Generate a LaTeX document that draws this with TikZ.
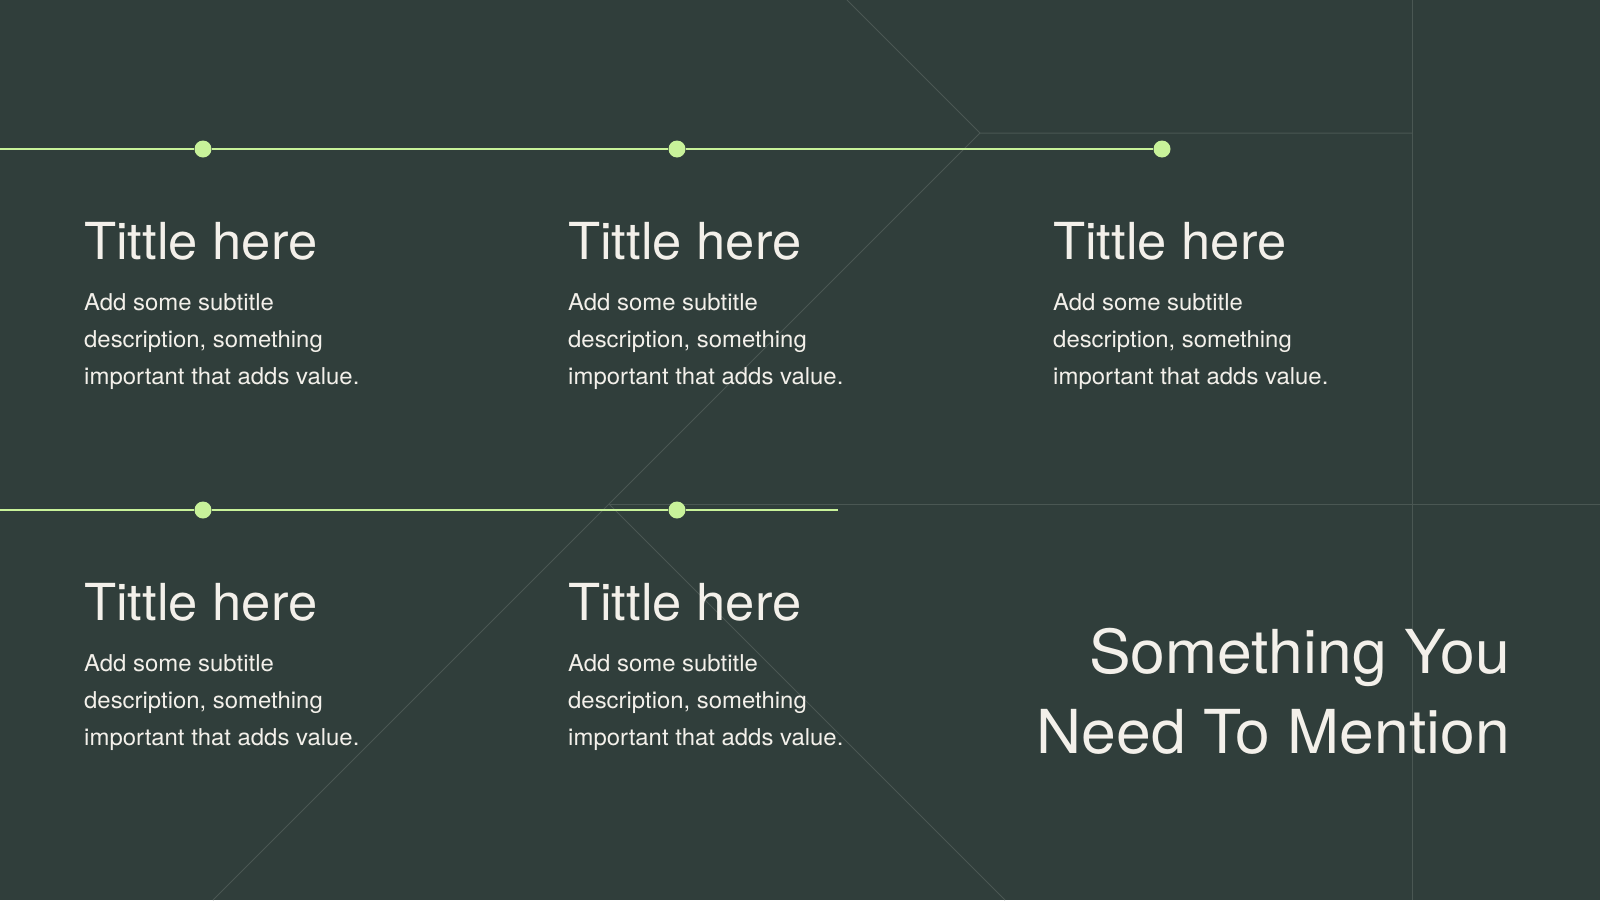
\documentclass[tikz,border=0pt]{standalone}
\usepackage{fontspec}
\setmainfont[FakeStretch=1.03]{TeX Gyre Heros}
\definecolor{bg}{HTML}{303E3B}
\definecolor{accent}{HTML}{C8F29A}
\definecolor{faint}{HTML}{4A5753}
\definecolor{txt}{HTML}{F3F0EA}
\tikzset{
  faintline/.style={draw=faint, line width=1pt},
  greenline/.style={draw=accent, line width=2pt},
  dotnode/.style={circle, fill=accent, minimum size=17pt, inner sep=0pt},
  titletext/.style={anchor=base west, inner sep=0pt, text=txt, font=\fontsize{51}{60}\selectfont},
  bodytext/.style={anchor=base west, inner sep=0pt, text=txt, font=\fontsize{23.2}{27}\selectfont},
  bigtext/.style={anchor=base east, inner sep=0pt, text=txt, font=\fontsize{60.6}{72}\selectfont},
}
\newcommand\mycard[3]{%
  \node[titletext] (#1t) at (#2,#3) {Tittle here};
  \node[bodytext] (#1a) at (#2,#3+51) {Add some subtitle};
  \node[bodytext] (#1b) at (#2,#3+88) {description, something};
  \node[bodytext] (#1c) at (#2,#3+125) {important that adds value.};
}
\begin{document}
\begin{tikzpicture}[x=1pt,y=-1pt]
\fill[bg] (0,0) rectangle (1600,900);
\useasboundingbox (0,0) rectangle (1600,900);
% faint background lines
\coordinate (fa) at (847,0);
\coordinate (fv) at (980,133);
\coordinate (fr) at (1412,133);
\coordinate (vt) at (1412,0);
\coordinate (vb) at (1412,900);
\coordinate (cx) at (609,504);
\coordinate (bl) at (213,900);
\coordinate (br) at (1005,900);
\coordinate (hr) at (1600,504);
\draw[faintline] (fa) -- (fv) -- (fr);
\draw[faintline] (vt) -- (vb);
\draw[faintline] (fv) -- (cx) -- (bl);
\draw[faintline] (cx) -- (br);
\draw[faintline] (cx) -- (hr);
% green timelines
\coordinate (g1s) at (0,149);
\coordinate (g2s) at (0,510);
\coordinate (g2e) at (838,510);
\node[dotnode] (d1) at (203,149) {};
\node[dotnode] (d2) at (677,149) {};
\node[dotnode] (d3) at (1162,149) {};
\node[dotnode] (d4) at (203,510) {};
\node[dotnode] (d5) at (677,510) {};
\draw[greenline] (g1s) -- (d1) -- (d2) -- (d3);
\draw[greenline] (g2s) -- (d4) -- (d5) -- (g2e);
% cards
\mycard{c1}{84}{259}
\mycard{c2}{568}{259}
\mycard{c3}{1053}{259}
\mycard{c4}{84}{620}
\mycard{c5}{568}{620}
% big statement
\node[bigtext] (s1) at (1510,673) {Something You};
\node[bigtext] (s2) at (1510,753) {Need To Mention};
\end{tikzpicture}
\end{document}
